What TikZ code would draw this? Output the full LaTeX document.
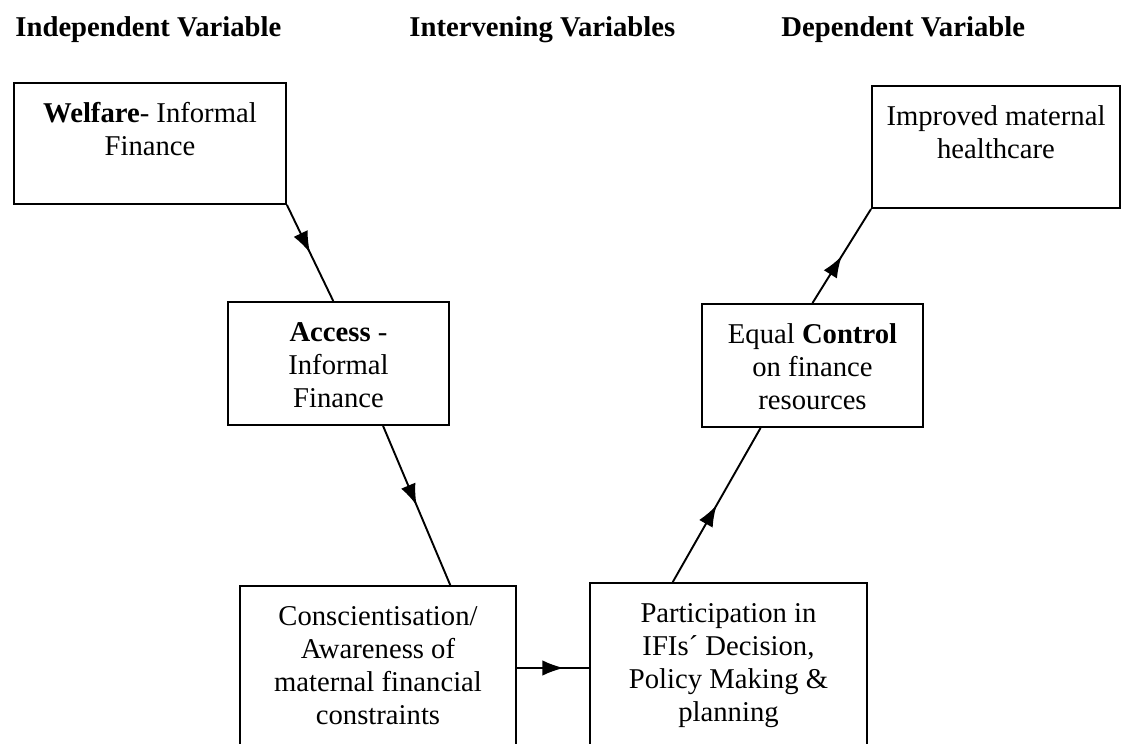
\documentclass[tikz,border=0pt]{standalone}
\usepackage{fontspec}
\setmainfont{Liberation Serif}
\usetikzlibrary{arrows.meta,decorations.markings,calc}

\newcommand{\vartext}[3]{\parbox[t][#2][t]{#1}{\centering\rule{0pt}{16.5pt}#3}}

\begin{document}
\begin{tikzpicture}[x=0.4185pt,y=-0.4185pt,
font=\fontsize{12}{13.8}\selectfont,
box/.style={draw,line width=0.8pt,inner sep=0pt},
midarrow/.style={line width=0.8pt,
  decoration={markings,mark=at position #1 with {\arrow{Latex[length=9pt,width=6.5pt]}}},
  postaction={decorate}},
midarrow/.default=0.5,
heading/.style={anchor=base west,inner sep=0pt,font=\fontsize{12}{13.8}\selectfont\bfseries}]
\useasboundingbox (0,0) rectangle (1121,744);
\clip (0,0) rectangle (1121,744);

\node[heading] (indep) at (15,37) {Independent Variable};
\node[heading] (interv) at (409,37) {Intervening Variables};
\node[heading] (dep) at (781,37) {Dependent Variable};

\node[box] (welfare) at (150,143.5) {\vartext{113.8pt}{50.6pt}{\textbf{Welfare}- Informal\\Finance}};
\node[box] (access) at (338.5,363.5) {\vartext{92.5pt}{51.5pt}{\textbf{Access} -\\Informal\\Finance}};
\node[box] (consc) at (378,668) {\vartext{115.5pt}{68.6pt}{Conscientisation/\\Awareness of\\maternal financial\\constraints}};
\node[box] (partic) at (728.5,668) {\vartext{115.9pt}{71.1pt}{Participation in\\IFIs´ Decision,\\Policy Making \&\\planning}};
\node[box] (control) at (812.5,365.5) {\vartext{92.5pt}{51.5pt}{Equal \textbf{Control}\\on finance\\resources}};
\node[box] (improved) at (996,147) {\vartext{103.8pt}{51.1pt}{Improved maternal\\healthcare}};

\draw[midarrow] (welfare.south east) -- ([xshift=-2.2pt]access.north);
\draw[midarrow] ($(access.south west)!0.7!(access.south east)$) -- ($(consc.north west)!0.76!(consc.north east)$);
\draw[midarrow=0.65] (consc.east) -- (partic.west);
\draw[midarrow] ($(partic.north west)!0.3!(partic.north east)$) -- ($(control.south west)!0.267!(control.south east)$);
\draw[midarrow] (control.north) -- (improved.south west);

\end{tikzpicture}
\end{document}
